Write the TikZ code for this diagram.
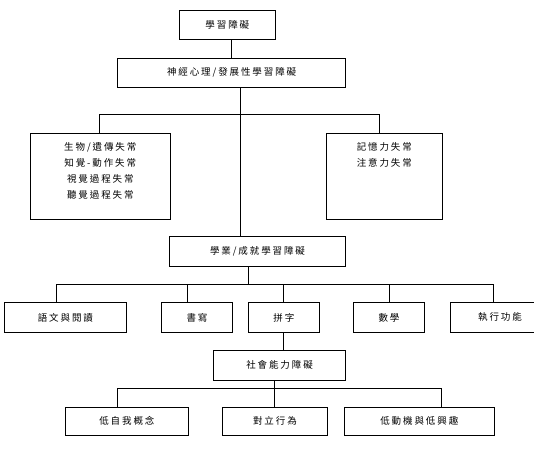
\documentclass[tikz,border=0pt]{standalone}
\usepackage{fontspec}
\usetikzlibrary{positioning}
\newfontfamily\cjk[LetterSpace=20]{Noto Sans CJK TC}

\begin{document}
\begin{tikzpicture}[x=1pt, y=-1pt,
    box/.style={rectangle, draw=black, line width=0.9pt, inner sep=0pt,
                font=\cjk\fontsize{9.5}{12}\selectfont},
    listtext/.style={inner sep=0pt, align=center,
                font=\cjk\fontsize{9.5}{16.3}\selectfont},
    link/.style={draw=black, line width=0.9pt}]
  \useasboundingbox (0,0) rectangle (534,452);
  \clip (0,0) rectangle (534,452);

  % niveles superiores
  \node[box, minimum width=96, minimum height=29] (ld) at (227.3,24.8) {學習障礙};
  \node[box, minimum width=228, minimum height=29] (neuro) at (231.6,72.8) {神經心理/發展性學習障礙};
  \node[box, minimum width=140, minimum height=86] (bio) at (100.3,176.3) {};
  \node[listtext, below=9pt of bio.north] (biotext) {生物/遺傳失常\\知覺-動作失常\\視覺過程失常\\聽覺過程失常};
  \node[box, minimum width=116, minimum height=86] (mem) at (384.3,176.3) {};
  \node[listtext, below=9pt of mem.north] (memtext) {記憶力失常\\注意力失常};

  % rendimiento academico
  \node[box, minimum width=176, minimum height=30] (acad) at (257.5,251) {學業/成就學習障礙};
  \node[box, minimum width=122, minimum height=30] (lang) at (65.4,317.4) {語文與閱讀};
  \node[box, minimum width=71, minimum height=30] (write) at (197,317.4) {書寫};
  \node[box, minimum width=71, minimum height=30] (spell) at (283.9,317.4) {拼字};
  \node[box, minimum width=71, minimum height=30] (math) at (389,317.4) {數學};
  \node[box, minimum width=100, minimum height=30] (exec) at (500,317.4) {執行功能};

  % competencia social
  \node[box, minimum width=132, minimum height=29.3] (social) at (279.5,365.3) {社會能力障礙};
  \node[box, minimum width=123, minimum height=28.5] (self) at (126.9,421.3) {低自我概念};
  \node[box, minimum width=105, minimum height=28.5] (oppose) at (274.9,421.3) {對立行為};
  \node[box, minimum width=150, minimum height=28.5] (motiv) at (419.3,421.3) {低動機與低興趣};

  % conexiones
  \coordinate (spine) at (240.8,114.3);
  \coordinate (hub) at (248.3,284.3);
  \coordinate (fork) at (274.9,388.3);
  \draw[link] (ld.south -| neuro.north) -- (neuro.north);
  \draw[link] (neuro.south -| spine) -- (acad.north -| spine);
  \draw[link] ([xshift=-0.9pt]bio.north) |- (spine) -| ([xshift=-5pt]mem.north);
  \draw[link] (acad.south -| hub) -- (hub);
  \draw[link] ([xshift=-9.2pt]lang.north) |- (hub) -| ([xshift=-6.5pt]exec.north);
  \draw[link] ([xshift=-9.7pt]write.north) -- ([xshift=-9.7pt]write.north |- hub);
  \draw[link] (spell.north) -- (spell.north |- hub);
  \draw[link] (math.north) -- (math.north |- hub);
  \draw[link] (spell.south) -- (spell.south |- social.north);
  \draw[link] (social.south -| fork) -- (oppose.north);
  \draw[link] ([xshift=-9.4pt]self.north) |- (fork) -| ([xshift=22.4pt]motiv.north);
\end{tikzpicture}
\end{document}
